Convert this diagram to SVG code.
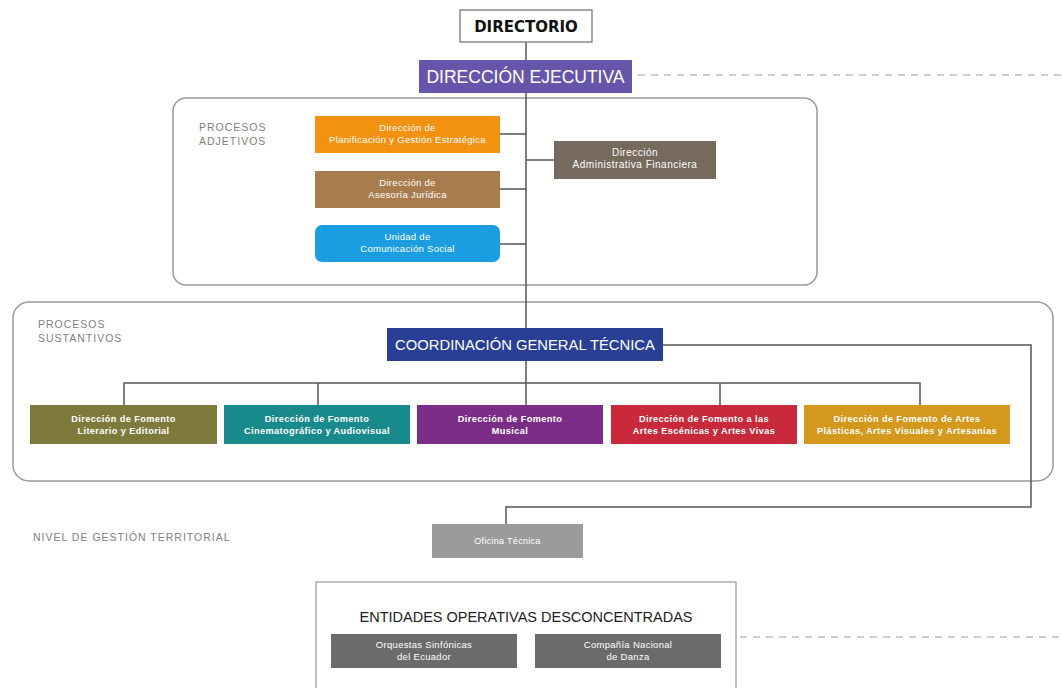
<svg xmlns="http://www.w3.org/2000/svg" width="1062" height="688" viewBox="0 0 1062 688">
<style>
.t{font-family:"Liberation Sans",Arial,sans-serif;fill:#fff;text-anchor:middle}
.s{font-size:9.5px;letter-spacing:0.3px}
.sb{font-size:9.2px;font-weight:bold;letter-spacing:0.4px}
.lbl{font-family:"Liberation Sans",Arial,sans-serif;font-size:10.5px;letter-spacing:1px;fill:#808080}
.ln{stroke:#555;stroke-width:1.5;fill:none}
.frame{fill:#fff;stroke:#999;stroke-width:1.5}
</style>
<rect width="1062" height="688" fill="#fff"/>
<g id="frames">
<rect class="frame" x="173" y="98" width="644" height="187" rx="13"/>
<rect class="frame" x="13" y="302" width="1040" height="179" rx="16"/>
<text class="lbl" x="199" y="131">PROCESOS</text>
<text class="lbl" x="199" y="145">ADJETIVOS</text>
<text class="lbl" x="38" y="328">PROCESOS</text>
<text class="lbl" x="38" y="342">SUSTANTIVOS</text>
<text class="lbl" x="33" y="541">NIVEL DE GESTIÓN TERRITORIAL</text>
</g>
<g id="connectors">
<line class="ln" x1="526" y1="42" x2="526" y2="60"/>
<line class="ln" x1="526" y1="93" x2="526" y2="328"/>
<line x1="638" y1="75" x2="1062" y2="75" stroke="#999" stroke-width="1.2" stroke-dasharray="7,6"/>
<line class="ln" x1="500" y1="134" x2="526" y2="134"/>
<line class="ln" x1="500" y1="189" x2="526" y2="189"/>
<line class="ln" x1="500" y1="244" x2="526" y2="244"/>
<line class="ln" x1="526" y1="160" x2="554" y2="160"/>
<line class="ln" x1="526" y1="361" x2="526" y2="405"/>
<polyline class="ln" points="124,405 124,383 920,383 920,405"/>
<line class="ln" x1="318" y1="383" x2="318" y2="405"/>
<line class="ln" x1="720" y1="383" x2="720" y2="405"/>
<polyline class="ln" points="663,345 1031,345 1031,507 506,507 506,524"/>
<line x1="740" y1="637" x2="1062" y2="637" stroke="#999" stroke-width="1.2" stroke-dasharray="7,6"/>
</g>
<g id="directorio">
<rect x="460" y="10" width="132" height="32" fill="#fff" stroke="#888" stroke-width="1.5"/>
<text x="526" y="32" style="font-family:'DejaVu Sans',Arial,sans-serif;font-size:15px;font-weight:bold;fill:#111;text-anchor:middle">DIRECTORIO</text>
</g>
<g id="ejecutiva">
<rect x="419" y="60" width="213" height="33" fill="#6655aa"/>
<text class="t" x="525.5" y="82.5" style="font-size:17.5px">DIRECCIÓN EJECUTIVA</text>
</g>
<g id="planificacion">
<rect x="315" y="116" width="185" height="37" fill="#f39110"/>
<text class="t s" x="407.5" y="131">Dirección de</text>
<text class="t s" x="407.5" y="143">Planificación y Gestión Estratégica</text>
</g>
<g id="juridica">
<rect x="315" y="171" width="185" height="37" fill="#a97c4e"/>
<text class="t s" x="407.5" y="186">Dirección de</text>
<text class="t s" x="407.5" y="198">Asesoría Jurídica</text>
</g>
<g id="comunicacion">
<rect x="315" y="225" width="185" height="37" rx="7" fill="#1b9de2"/>
<text class="t s" x="407.5" y="240">Unidad de</text>
<text class="t s" x="407.5" y="252">Comunicación Social</text>
</g>
<g id="administrativa">
<rect x="554" y="141" width="162" height="38" fill="#766a5c"/>
<text class="t s" x="635" y="156" style="font-size:10px;letter-spacing:0.5px">Dirección</text>
<text class="t s" x="635" y="168" style="font-size:10px;letter-spacing:0.5px">Administrativa Financiera</text>
</g>
<g id="coordinacion">
<rect x="387" y="328" width="276" height="33" fill="#283f95"/>
<text class="t" x="525" y="350" style="font-size:14.8px">COORDINACIÓN GENERAL TÉCNICA</text>
</g>
<g id="literario">
<rect x="30" y="405" width="187" height="39" fill="#7d7a3c"/>
<text class="t sb" x="123.5" y="422">Dirección de Fomento</text>
<text class="t sb" x="123.5" y="434">Literario y Editorial</text>
</g>
<g id="cine">
<rect x="224" y="405" width="186" height="39" fill="#198a8c"/>
<text class="t sb" x="317" y="422">Dirección de Fomento</text>
<text class="t sb" x="317" y="434">Cinematográfico y Audiovisual</text>
</g>
<g id="musical">
<rect x="417" y="405" width="186" height="39" fill="#7b2c86"/>
<text class="t sb" x="510" y="422">Dirección de Fomento</text>
<text class="t sb" x="510" y="434">Musical</text>
</g>
<g id="escenicas">
<rect x="611" y="405" width="186" height="39" fill="#c92a3b"/>
<text class="t sb" x="704" y="422">Dirección de Fomento a las</text>
<text class="t sb" x="704" y="434">Artes Escénicas y Artes Vivas</text>
</g>
<g id="plasticas">
<rect x="804" y="405" width="206" height="39" fill="#d4981c"/>
<text class="t sb" x="907" y="422">Dirección de Fomento de Artes</text>
<text class="t sb" x="907" y="434">Plásticas, Artes Visuales y Artesanías</text>
</g>
<g id="oficina">
<rect x="432" y="524" width="151" height="34" fill="#9b9b9b"/>
<text class="t s" x="507.5" y="544" style="font-size:9px">Oficina Técnica</text>
</g>
<g id="entidades">
<rect x="316" y="582" width="420" height="110" fill="#fff" stroke="#aaa" stroke-width="1.5"/>
<text x="526" y="622" style="font-family:'Liberation Sans',Arial,sans-serif;font-size:14.5px;fill:#222;text-anchor:middle">ENTIDADES OPERATIVAS DESCONCENTRADAS</text>
</g>
<g id="orquestas">
<rect x="331" y="634" width="186" height="34" fill="#6b6b6b"/>
<text class="t s" x="424" y="648">Orquestas Sinfónicas</text>
<text class="t s" x="424" y="660">del Ecuador</text>
</g>
<g id="danza">
<rect x="535" y="634" width="186" height="34" fill="#6b6b6b"/>
<text class="t s" x="628" y="648">Compañía Nacional</text>
<text class="t s" x="628" y="660">de Danza</text>
</g>
</svg>
